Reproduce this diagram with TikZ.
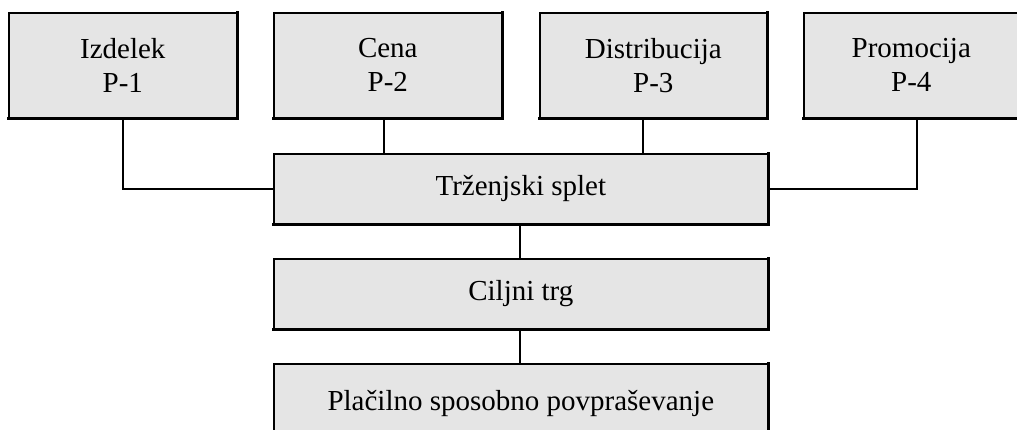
\documentclass[tikz,border=0pt]{standalone}
\usepackage{fontspec}
\setmainfont{Liberation Serif}
\begin{document}
\begin{tikzpicture}[x=1pt,y=-1pt,
  box/.style={draw=black, line width=1.6pt, fill=boxgray, inner sep=0pt, anchor=north west,
    font=\fontsize{29}{34}\selectfont, align=center},
  link/.style={draw=black, line width=1.8pt},
  shade/.style={draw=black, line width=2.4pt, line cap=rect}]
\definecolor{boxgray}{HTML}{E5E5E5}
\clip (0,0) rectangle (1017,429);
% marketing mix elements
\node[box, minimum width=228pt, minimum height=105pt] (p1) at (8,12) {Izdelek\\P-1};
\node[box, minimum width=228pt, minimum height=105pt] (p2) at (273,12) {Cena\\P-2};
\node[box, minimum width=227pt, minimum height=105pt] (p3) at (539,12) {Distribucija\\P-3};
\node[box, minimum width=215pt, minimum height=105pt] (p4) at (803,12) {Promocija\\P-4};
% central chain
\node[box, minimum width=494pt, minimum height=70pt] (mix) at (273,153) {Trženjski splet};
\node[box, minimum width=494pt, minimum height=70pt] (trg) at (273,258) {Ciljni trg};
\node[box, minimum width=494pt, minimum height=80pt] (dem) at (273,363) {\raisebox{-4pt}{Plačilno sposobno povpraševanje}};
% heavier lower and right edges
\foreach \n in {p1,p2,p3,p4,mix,trg,dem}{
  \draw[shade] (\n.south west) -- (\n.south east) -- (\n.north east);
}
% connectors
\draw[link] (p1.south -| 123,0) |- (mix.west);
\draw[link] (p2.south -| 384,0) -- (mix.north -| 384,0);
\draw[link] (p3.south -| 643,0) -- (mix.north -| 643,0);
\draw[link] (p4.south -| 917,0) |- (mix.east);
\draw[link] (mix.south -| 520,0) -- (trg.north -| 520,0);
\draw[link] (trg.south -| 520,0) -- (dem.north -| 520,0);
\end{tikzpicture}
\end{document}
